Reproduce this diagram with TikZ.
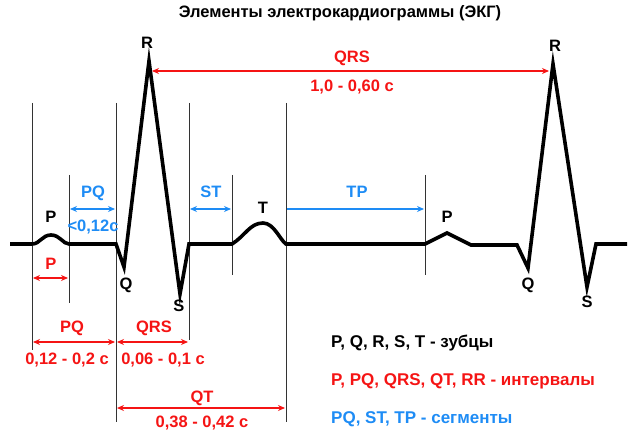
\documentclass[tikz,border=0pt]{standalone}
\usepackage{fontspec}
\setmainfont{Liberation Sans}
\usepackage{xcolor}
\usetikzlibrary{arrows.meta}
\definecolor{ivred}{HTML}{F51414}
\definecolor{sgblue}{HTML}{1E8CF5}
\tikzset{
	ecg/.style={line width=3.6pt, black},
	guide/.style={line width=0.8pt, black!80},
	dim/.style={line width=1.6pt, {Stealth[length=7pt,width=6pt]}-{Stealth[length=7pt,width=6pt]}},
	dimr/.style={line width=1.6pt, -{Stealth[length=7pt,width=6pt]}},
	lbl/.style={inner sep=0pt, font=\fontsize{16.5}{19}\selectfont\bfseries, text height=11.8pt, text depth=0pt},
	legend/.style={lbl, anchor=west, font=\fontsize{17}{20}\selectfont\bfseries}
}
\begin{document}
\begin{tikzpicture}[x=1pt,y=-1pt]
			\useasboundingbox (0,0) rectangle (640,433);
			
			% trace points
			\coordinate (s0) at (10,244);
			\coordinate (p1a) at (32,244);
			\coordinate (p1) at (51,235);
			\coordinate (p1b) at (69,244);
			\coordinate (q1a) at (116,244);
			\coordinate (q1) at (124,267);
			\coordinate (r1) at (149,61);
			\coordinate (s1) at (180,294);
			\coordinate (s1b) at (189,244);
			\coordinate (t1a) at (232,244);
			\coordinate (t1) at (263,223);
			\coordinate (t1b) at (286,244);
			\coordinate (p2a) at (425,244);
			\coordinate (p2) at (447,233);
			\coordinate (p2b) at (471,245);
			\coordinate (q2a) at (517,245);
			\coordinate (q2) at (528,268);
			\coordinate (r2) at (553,64);
			\coordinate (s2) at (587,287);
			\coordinate (s2b) at (596,244);
			\coordinate (e0) at (627,244);
			
			% guide lines
			\coordinate (g1t) at (32,103);  \coordinate (g1b) at (32,350);
			\coordinate (g2t) at (69,175);  \coordinate (g2b) at (69,303);
			\coordinate (g3t) at (116,103); \coordinate (g3b) at (116,422);
			\coordinate (g4t) at (189,103); \coordinate (g4b) at (189,340);
			\coordinate (g5t) at (232,175); \coordinate (g5b) at (232,275);
			\coordinate (g6t) at (286,103); \coordinate (g6b) at (286,422);
			\coordinate (g7t) at (425,175); \coordinate (g7b) at (425,275);
			
			\foreach \g in {1,...,7}
				\draw[guide] (g\g t) -- (g\g b);
			
			\draw[ecg] (s0) -- (p1a) .. controls (40,244) and (42,235) .. (p1)
				.. controls (60,235) and (63,244) .. (p1b) -- (q1a) -- (q1) -- (r1) -- (s1) -- (s1b)
				-- (t1a) .. controls (245,236) and (250,223) .. (t1)
				.. controls (274,223) and (280,240) .. (t1b) -- (p2a) -- (p2) -- (p2b)
				-- (q2a) -- (q2) -- (r2) -- (s2) -- (s2b) -- (e0);
			
			% wave names
			\node[lbl] (lP1) at (51,217) {P};
			\node[lbl] (lQ1) at (126,284) {Q};
			\node[lbl] (lR1) at (147,43) {R};
			\node[lbl] (lS1) at (179,306) {S};
			\node[lbl] (lT1) at (263,208) {T};
			\node[lbl] (lP2) at (447,217) {P};
			\node[lbl] (lQ2) at (528,284) {Q};
			\node[lbl] (lR2) at (555,46) {R};
			\node[lbl] (lS2) at (587,302) {S};
			
			\node[lbl] (title) at (340,12) {Элементы электрокардиограммы (ЭКГ)};
			
			% RR interval
			\coordinate (rrL) at (152,71);
			\coordinate (rrR) at (549,71);
			\draw[dim, ivred] (rrL) -- (rrR);
			\node[lbl, ivred] (rrlab) at (352,57) {QRS};
			\node[lbl, ivred] (rrval) at (352,86) {1,0 - 0,60 с};
			
			% segments
			\coordinate (spqL) at (70,209);  \coordinate (spqR) at (115,209);
			\coordinate (sstL) at (190,209); \coordinate (sstR) at (231,209);
			\coordinate (stpL) at (287,209); \coordinate (stpR) at (424,209);
			\draw[dim, sgblue] (spqL) -- (spqR);
			\draw[dim, sgblue] (sstL) -- (sstR);
			\draw[dimr, sgblue] (stpL) -- (stpR);
			\node[lbl, sgblue] (spqlab) at (93,192) {PQ};
			\node[lbl, sgblue] (spqval) at (93,226) {<0,12c};
			\node[lbl, sgblue] (sstlab) at (211,192) {ST};
			\node[lbl, sgblue] (stplab) at (357,192) {TP};
			
			% intervals
			\coordinate (ipL) at (33,278);   \coordinate (ipR) at (68,278);
			\coordinate (ipqL) at (33,342);  \coordinate (ipqR) at (115,342);
			\coordinate (iqrsL) at (117,342); \coordinate (iqrsR) at (188,342);
			\coordinate (iqtL) at (117,408); \coordinate (iqtR) at (285,408);
			\draw[dim, ivred] (ipL) -- (ipR);
			\draw[dim, ivred] (ipqL) -- (ipqR);
			\draw[dim, ivred] (iqrsL) -- (iqrsR);
			\draw[dim, ivred] (iqtL) -- (iqtR);
			\node[lbl, ivred] (iplab) at (51,264) {P};
			\node[lbl, ivred] (ipqlab) at (72,327) {PQ};
			\node[lbl, ivred] (ipqval) at (67,359) {0,12 - 0,2 с};
			\node[lbl, ivred] (iqrslab) at (154,327) {QRS};
			\node[lbl, ivred] (iqrsval) at (163,359) {0,06 - 0,1 с};
			\node[lbl, ivred] (iqtlab) at (202,397) {QT};
			\node[lbl, ivred] (iqtval) at (202,422) {0,38 - 0,42 с};
			
			% legend
			\node[legend] (leg1) at (331,342) {P, Q, R, S, T - зубцы};
			\node[legend, ivred] (leg2) at (331,380) {P, PQ, QRS, QT, RR - интервалы};
			\node[legend, sgblue] (leg3) at (331,418) {PQ, ST, TP - сегменты};
			
		\end{tikzpicture}
\end{document}
